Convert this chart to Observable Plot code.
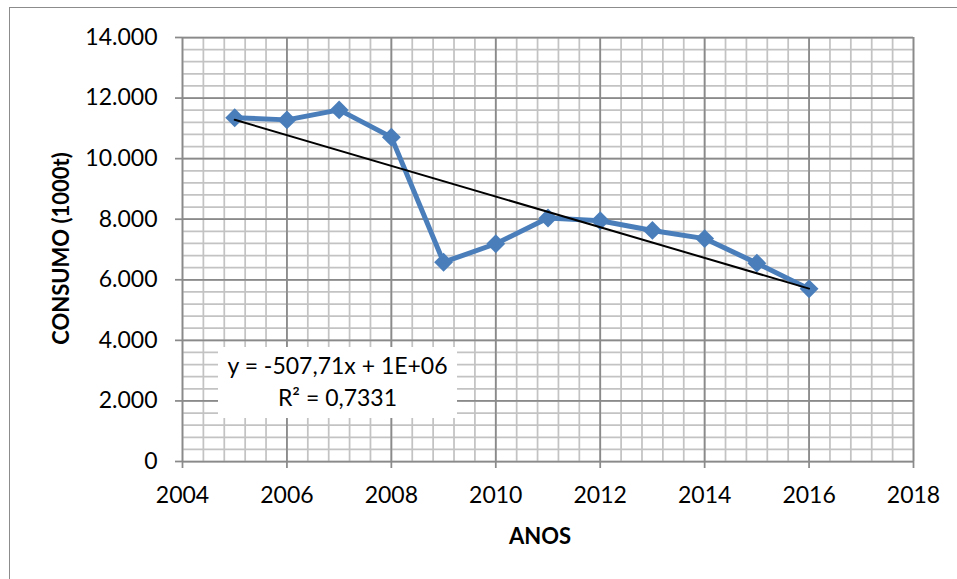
<!DOCTYPE html>
<html>
<head>
<meta charset="utf-8">
<script src="https://cdn.jsdelivr.net/npm/d3@7"></script>
<script src="https://cdn.jsdelivr.net/npm/@observablehq/plot@0.6"></script>
<style>
  html, body { margin: 0; padding: 0; background: #fff; }
  #wrap { position: relative; width: 957px; height: 579px; overflow: hidden; font-family: Lato, "Open Sans", sans-serif; }
  #border { position: absolute; left: 9px; top: 7px; right: -10px; bottom: -10px; border-top: 1.5px solid #8c8c8c; border-left: 1.5px solid #8c8c8c; pointer-events: none; }
  #eq { position: absolute; left: 218px; top: 347px; width: 239px; height: 71px; background: #fff; text-align: center; font-size: 23px; color: #000; }
  #eq div { position: absolute; left: 0; right: 0; }
</style>
</head>
<body>
<div id="wrap">
  <div id="chart"></div>
  <div id="border"></div>
  <div id="eq"><div id="l1"></div><div id="l2"></div></div>
</div>
<script>
const years = [2005, 2006, 2007, 2008, 2009, 2010, 2011, 2012, 2013, 2014, 2015, 2016];
const consumo = [11350, 11280, 11610, 10710, 6580, 7190, 8040, 7950, 7630, 7360, 6550, 5700];
const xTicks = [2004, 2006, 2008, 2010, 2012, 2014, 2016, 2018];
const yTicks = [0, 2000, 4000, 6000, 8000, 10000, 12000, 14000];
const xLabel = "ANOS";
const yLabel = "CONSUMO (1000t)";
const eqLine1 = "y = -507,71x + 1E+06";
const eqLine2 = "R² = 0,7331";

const data = years.map((year, i) => ({year, value: consumo[i]}));
const xMinor = d3.range(2004, 2018.001, 0.4);
const yMinor = d3.range(0, 14000.1, 400);
const fmt = d3.formatLocale({decimal: ",", thousands: ".", grouping: [3], currency: ["", ""]}).format(",d");

const font = "Lato, 'Open Sans', sans-serif";
const chart = Plot.plot({
  width: 957,
  height: 579,
  marginLeft: 182,
  marginRight: 44,
  marginTop: 37,
  marginBottom: 118,
  style: {fontFamily: font, background: "transparent", color: "#000"},
  x: {domain: [2004, 2018]},
  y: {domain: [0, 14000]},
  marks: [
    Plot.ruleX(xMinor, {stroke: "#c3c3c3", strokeWidth: 1.75}),
    Plot.ruleY(yMinor, {stroke: "#c3c3c3", strokeWidth: 1.75}),
    Plot.ruleX(xTicks, {stroke: "#8a8a8a", strokeWidth: 1.75}),
    Plot.ruleY(yTicks, {stroke: "#8a8a8a", strokeWidth: 1.75}),
    Plot.axisX({ticks: xTicks, tickFormat: d => String(d), tickSize: 7, tickPadding: 18, fontSize: 23, stroke: "#8a8a8a", strokeWidth: 1.75, fill: "#000", label: null}),
    Plot.axisY({ticks: yTicks, tickFormat: fmt, tickSize: 7, tickPadding: 18, fontSize: 23, stroke: "#8a8a8a", strokeWidth: 1.75, fill: "#000", label: null}),
    Plot.line(data, {x: "year", y: "value", stroke: "#4a7ebb", strokeWidth: 5, strokeLinejoin: "round"}),
    Plot.dot(data, {x: "year", y: "value", symbol: "diamond2", r: 8.5, fill: "#4a7ebb", stroke: "none"}),
    Plot.linearRegressionY(data, {x: "year", y: "value", ci: 0, stroke: "#000", strokeWidth: 2}),
    Plot.text([xLabel], {frameAnchor: "bottom", lineAnchor: "middle", dx: -8, dy: 75, fontSize: 22, fontWeight: "bold", fill: "#000"}),
    Plot.text([yLabel], {frameAnchor: "left", textAnchor: "middle", lineAnchor: "middle", dx: -121, dy: -1, rotate: -90, fontSize: 22, fontWeight: "bold", fill: "#000"})
  ]
});
document.getElementById("chart").appendChild(chart);
const l1 = document.getElementById("l1");
const l2 = document.getElementById("l2");
l1.textContent = eqLine1; l1.style.top = "4px";
l2.textContent = eqLine2; l2.style.top = "36px";
</script>
</body>
</html>
